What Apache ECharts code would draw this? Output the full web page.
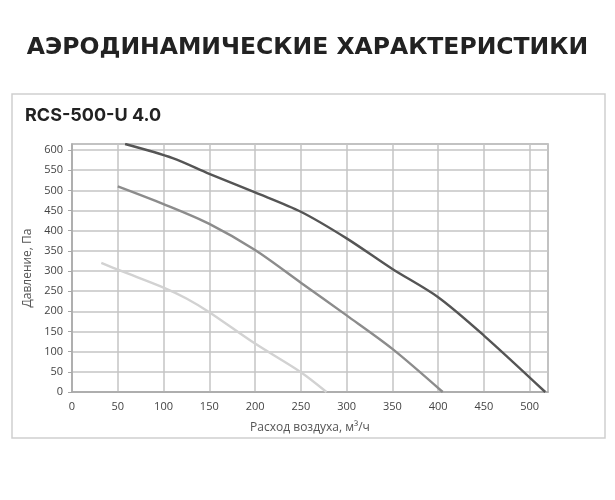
<!DOCTYPE html>
<html>
<head>
<meta charset="utf-8">
<script src="https://cdn.jsdelivr.net/npm/echarts@6/dist/echarts.min.js"></script>
<style>
html,body{margin:0;padding:0;background:#fff;}
#chart{width:615px;height:500px;}
</style>
</head>
<body>
<div id="chart"></div>
<script>
const pageTitle = 'АЭРОДИНАМИЧЕСКИЕ ХАРАКТЕРИСТИКИ';
const modelName = 'RCS-500-U 4.0';
const xAxisName = 'Расход воздуха, м³/ч';
const yAxisName = 'Давление, Па';

const curveHigh = [[58,615],[110,580],[150,541],[200,495],[250,447],[300,381],[350,305],[400,235],[450,140],[517,0]];
const curveMid = [[50,510],[100,466],[150,417],[200,352],[250,271],[300,190],[350,107],[405,0]];
const curveLow = [[32,320],[55,299],[100,259],[125,232],[150,198],[200,120],[250,49],[278,0]];

const chart = echarts.init(document.getElementById('chart'));
const gridColor = '#c4c4c4';
const lineSeries = (data, color) => ({
  type: 'line', data: data, smooth: 0.3, showSymbol: false,
  lineStyle: {color: color, width: 2.4}, clip: true, animation: false
});
chart.setOption({
  animation: false,
  title: [
    {text: pageTitle, left: 'center', top: 31,
     textStyle: {fontFamily: 'DejaVu Sans', fontWeight: 'bold', fontSize: 23.5, color: '#222'}},
    {text: modelName, left: 20, top: 102,
     textStyle: {fontFamily: 'Inter', fontWeight: 'bold', fontSize: 18, color: '#222'}}
  ],
  graphic: [{type: 'rect', shape: {x: 12, y: 94, width: 593, height: 344},
    style: {fill: 'none', stroke: '#cfcfcf', lineWidth: 1.5}, z: -1}],
  grid: {left: 72, right: 67, top: 144, bottom: 108, show: true, borderColor: '#a8a8a8', borderWidth: 1.5},
  xAxis: {type: 'value', min: 0, max: 520, interval: 50,
    name: xAxisName, nameLocation: 'middle', nameGap: 30,
    nameTextStyle: {fontFamily: 'Open Sans', fontSize: 12, color: '#555'},
    axisLine: {lineStyle: {color: '#a8a8a8', width: 1.5}},
    axisTick: {show: false},
    axisLabel: {fontFamily: 'Open Sans', fontSize: 11, color: '#444', margin: 9, showMaxLabel: false},
    splitLine: {lineStyle: {color: gridColor, width: 1.5}}},
  yAxis: {type: 'value', min: 0, max: 615, interval: 50,
    name: yAxisName, nameLocation: 'middle', nameGap: 36,
    nameTextStyle: {fontFamily: 'Open Sans', fontSize: 12, color: '#555'},
    axisLine: {show: true, lineStyle: {color: '#a8a8a8', width: 1.5}},
    axisTick: {show: true, length: 4, lineStyle: {color: '#a8a8a8'}},
    axisLabel: {fontFamily: 'Open Sans', fontSize: 11, color: '#444', margin: 9, showMaxLabel: false},
    splitLine: {lineStyle: {color: gridColor, width: 1.5}}},
  series: [
    lineSeries(curveHigh, '#555555'),
    lineSeries(curveMid, '#8c8c8c'),
    lineSeries(curveLow, '#d2d2d2')
  ]
});
</script>
</body>
</html>
